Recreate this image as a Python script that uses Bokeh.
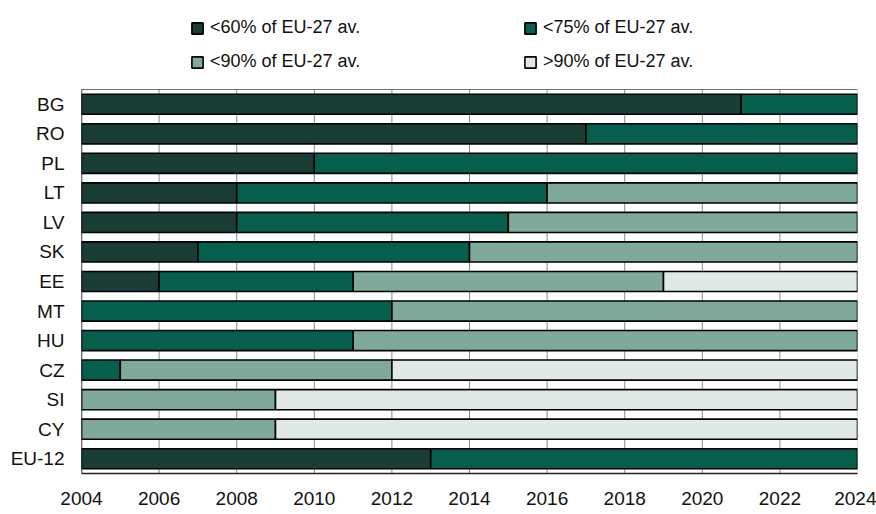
from bokeh.plotting import figure
from bokeh.models import ColumnDataSource, Range1d, Legend, LegendItem, FixedTicker
from bokeh.embed import file_html
from bokeh.resources import INLINE

countries = ["BG", "RO", "PL", "LT", "LV", "SK", "EE", "MT", "HU", "CZ", "SI", "CY", "EU-12"]
start_year = 2004
end_year = 2024
# year in which each country leaves the respective income band
end_lt60 = [2021, 2017, 2010, 2008, 2008, 2007, 2006, 2004, 2004, 2004, 2004, 2004, 2013]
end_lt75 = [2024, 2024, 2024, 2016, 2015, 2014, 2011, 2012, 2011, 2005, 2004, 2004, 2024]
end_lt90 = [2024, 2024, 2024, 2024, 2024, 2024, 2019, 2024, 2024, 2012, 2009, 2009, 2024]
end_gt90 = [2024] * len(countries)

band_labels = ["<60% of EU-27 av.", "<75% of EU-27 av.", "<90% of EU-27 av.", ">90% of EU-27 av."]
band_colors = ["#1a3d35", "#065e4c", "#7fa99a", "#e0e9e4"]
tick_years = list(range(2004, 2025, 2))

FONT = "Liberation Sans"
n = len(countries)
row_of = {c: n - 1 - i for i, c in enumerate(countries)}   # BG on top, EU-12 at bottom

# frame spans the full height so that the legend above the bars lies inside it
W, H = 876, 514
border_left, border_right, border_bottom, data_top_px = 81, 19, 41, 89
frame_h = H - border_bottom
rows_px = (frame_h - data_top_px) / n
y_top = -0.5 + frame_h / rows_px

p = figure(width=W, height=H, output_backend="svg", toolbar_location=None,
           x_range=Range1d(start_year, end_year), y_range=Range1d(-0.5, y_top),
           min_border_left=border_left, min_border_right=border_right,
           min_border_top=0, min_border_bottom=border_bottom)

# vertical grid lines, only over the bar area
grid_colors = ["#8a8a8a"] * (len(tick_years) - 1) + ["#c4c4c4"]
p.segment(x0=tick_years, y0=[-0.5] * len(tick_years), x1=tick_years,
          y1=[n - 0.5] * len(tick_years), line_color=grid_colors, line_width=1)

starts = [[start_year] * n, end_lt60, end_lt75, end_lt90]
ends = [end_lt60, end_lt75, end_lt90, end_gt90]

items = []
for lab, col, s, e in zip(band_labels, band_colors, starts, ends):
    yy, ll, rr = [], [], []
    for c, a, b in zip(countries, s, e):
        if b > a:
            yy.append(row_of[c]); ll.append(a); rr.append(b)
    src = ColumnDataSource(dict(y=yy, left=ll, right=rr))
    r = p.hbar(y="y", left="left", right="right", height=0.68, source=src,
               fill_color=col, line_color="black", line_width=1.6)
    items.append(LegendItem(label=lab, renderers=[r]))

# top border of the plot area and left axis line
p.segment(x0=[start_year], y0=[n - 0.5], x1=[end_year], y1=[n - 0.5],
          line_color="#6f6f6f", line_width=1)
p.segment(x0=[start_year], y0=[-0.5], x1=[start_year], y1=[n - 0.5],
          line_color="#222222", line_width=1.5)

legend_top_px = 17
legend_h = 55
legend = Legend(items=items, location=(109, frame_h - legend_top_px - legend_h),
                orientation="horizontal", ncols=2,
                label_text_font=FONT, label_text_font_size="18px", label_text_color="#111111",
                glyph_width=14, glyph_height=14, label_height=14, label_standoff=6,
                label_width=300, spacing=13, padding=0, margin=0,
                border_line_color=None, background_fill_alpha=0)
p.add_layout(legend, "center")

p.xaxis.ticker = FixedTicker(ticks=tick_years)
p.xaxis.major_tick_line_color = None
p.xaxis.minor_tick_line_color = None
p.xaxis.major_tick_out = 0
p.xaxis.major_tick_in = 0
p.xaxis.major_label_standoff = 18
p.xaxis.major_label_text_font = FONT
p.xaxis.major_label_text_font_size = "19px"
p.xaxis.major_label_text_color = "#111111"
p.xaxis.axis_line_color = "#222222"
p.xaxis.axis_line_width = 1.5

p.yaxis.ticker = FixedTicker(ticks=list(range(n)))
p.yaxis.major_label_overrides = {row_of[c]: c for c in countries}
p.yaxis.major_tick_line_color = None
p.yaxis.minor_tick_line_color = None
p.yaxis.major_tick_out = 0
p.yaxis.major_tick_in = 0
p.yaxis.major_label_standoff = 17
p.yaxis.major_label_text_font = FONT
p.yaxis.major_label_text_font_size = "19px"
p.yaxis.major_label_text_color = "#111111"
p.yaxis.axis_line_color = None

p.xgrid.grid_line_color = None
p.ygrid.grid_line_color = None
p.outline_line_color = None
p.background_fill_color = "white"

open("out.html", "w").write(file_html(p, INLINE))
